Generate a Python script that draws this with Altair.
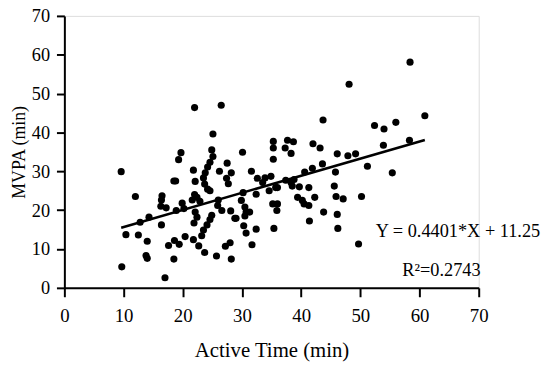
import altair as alt
import pandas as pd

# Active time (min) and MVPA (min)
active_time = [
    9.6, 9.7, 10.4, 12.0, 12.5, 12.8, 13.8, 14.0, 14.0, 14.3,
    16.5, 16.4, 16.3, 17.2, 16.4, 17.0, 17.6, 18.5, 18.6, 19.4,
    20.4, 18.8, 19.3, 19.7, 18.9, 19.9, 20.2, 21.8, 22.0, 22.1,
    22.1, 22.4, 21.9, 21.8, 22.7, 22.0, 21.6, 22.4, 22.9, 23.5,
    23.7, 24.2, 24.6, 23.8, 24.2, 24.6, 24.9, 25.1, 25.1, 26.5,
    26.2, 27.5, 28.2, 27.4, 27.7, 26.0, 25.9, 26.6, 28.1, 28.8,
    24.9, 24.6, 24.1, 23.5, 23.2, 23.7, 25.7, 27.2, 28.0, 28.2,
    30.1, 29.0, 30.2, 29.9, 30.5, 30.7, 31.3, 30.5, 30.3, 30.7,
    31.7, 32.4, 32.4, 31.6, 32.6, 33.9, 33.5, 34.9, 34.6, 36.0,
    35.2, 36.0, 35.9, 35.4, 35.3, 35.3, 35.3, 37.7, 38.7, 37.3,
    38.3, 37.4, 38.8, 38.5, 38.3, 39.7, 39.4, 40.2, 40.5, 41.3,
    42.3, 40.6, 41.9, 41.3, 41.4, 42.0, 43.2, 43.7, 43.6, 43.8,
    45.8, 45.6, 45.9, 47.1, 46.1, 46.2, 46.1, 47.9, 49.2, 48.1,
    49.7, 50.2, 51.2, 52.4, 54.0, 56.0, 53.9, 55.4, 58.4, 60.9,
    58.3, 35.7, 18.5,
]
mvpa = [
    29.9, 5.4, 13.7, 23.5, 13.6, 16.9, 8.3, 7.6, 12.0, 18.2,
    23.7, 22.6, 21.0, 20.6, 16.2, 2.6, 10.9, 7.4, 12.2, 11.2,
    13.2, 27.5, 33.0, 34.8, 19.9, 21.8, 20.4, 30.3, 46.4, 27.4,
    19.5, 18.2, 16.7, 12.4, 10.8, 24.0, 22.6, 23.3, 22.3, 28.3,
    26.7, 25.4, 25.0, 29.6, 31.1, 32.3, 35.5, 33.8, 39.6, 47.0,
    30.0, 32.1, 29.6, 28.2, 26.8, 22.6, 21.2, 19.9, 19.8, 17.9,
    18.7, 17.6, 16.2, 14.9, 13.4, 9.1, 8.2, 10.7, 11.6, 7.4,
    34.9, 17.9, 24.5, 22.5, 20.8, 19.5, 19.5, 18.5, 16.0, 14.1,
    11.1, 15.1, 24.1, 30.0, 28.2, 28.3, 27.1, 28.7, 25.0, 25.8,
    21.6, 21.6, 19.9, 15.3, 37.7, 36.0, 33.1, 38.0, 37.6, 36.0,
    34.6, 27.7, 27.9, 26.2, 27.1, 26.0, 23.3, 22.5, 21.6, 21.2,
    23.3, 29.8, 30.8, 25.8, 17.2, 37.1, 36.0, 43.2, 31.9, 19.5,
    29.8, 26.2, 23.5, 22.9, 18.9, 15.3, 34.5, 34.0, 34.5, 52.4,
    11.3, 23.5, 31.3, 41.8, 40.9, 42.6, 36.7, 29.6, 58.1, 44.3,
    38.0, 25.8, 27.5,
]

# Fitted regression reported on the chart
slope = 0.4401
intercept = 11.25
equation_text = ["Y = 0.4401*X + 11.25"]
r2_text = ["R\u00b2=0.2743"]
tick_values = [0, 10, 20, 30, 40, 50, 60, 70]

FONT = "Liberation Serif"

points = pd.DataFrame({"x": active_time, "y": mvpa})
x_fit = [min(active_time), max(active_time)]
fit = pd.DataFrame({"x": x_fit, "y": [slope * v + intercept for v in x_fit]})

x_scale = alt.Scale(domain=[0, 70], nice=False, zero=False)
y_scale = alt.Scale(domain=[0, 70], nice=False, zero=False)

x_axis = alt.Axis(
    title="Active Time (min)", values=tick_values, grid=False,
    domainColor="black", domainWidth=2, tickColor="black", tickWidth=2, tickSize=9,
    labelFont=FONT, labelFontSize=19, labelColor="black", labelPadding=10,
    labelOverlap=False, labelFlush=False,
    titleFont=FONT, titleFontSize=21, titleFontWeight="normal", titleColor="black",
    titlePadding=14,
)
y_axis = alt.Axis(
    title="MVPA (min)", values=tick_values, grid=False,
    domainColor="black", domainWidth=2, tickColor="black", tickWidth=2, tickSize=8,
    labelFont=FONT, labelFontSize=18.5, labelColor="black", labelPadding=7,
    labelOverlap=False, labelFlush=False,
    titleFont=FONT, titleFontSize=18, titleFontWeight="normal", titleColor="black",
    titlePadding=3,
)

scatter = alt.Chart(points).mark_circle(size=52, color="black", opacity=1).encode(
    x=alt.X("x:Q", scale=x_scale, axis=x_axis),
    y=alt.Y("y:Q", scale=y_scale, axis=y_axis),
)

line = alt.Chart(fit).mark_line(color="black", strokeWidth=2.5).encode(
    x=alt.X("x:Q", scale=x_scale, axis=x_axis),
    y=alt.Y("y:Q", scale=y_scale, axis=y_axis),
)

eq = alt.Chart(pd.DataFrame({"t": equation_text})).mark_text(
    font=FONT, fontSize=18.5, color="black", align="left", baseline="middle"
).encode(
    x=alt.X(datum=52.6, scale=x_scale, axis=x_axis),
    y=alt.Y(datum=14.6, scale=y_scale, axis=y_axis),
    text="t:N",
)

r2 = alt.Chart(pd.DataFrame({"t": r2_text})).mark_text(
    font=FONT, fontSize=18.5, color="black", align="left", baseline="middle"
).encode(
    x=alt.X(datum=57.1, scale=x_scale, axis=x_axis),
    y=alt.Y(datum=4.6, scale=y_scale, axis=y_axis),
    text="t:N",
)

chart = alt.layer(scatter, line, eq, r2).properties(
    width=419, height=275,
    padding={"left": 57, "top": 6, "right": 64, "bottom": 74},
    autosize=alt.AutoSizeParams(type="none"),
).configure_view(stroke=None).configure_axis(labelOverlap=False).configure(background="white")

chart.save("out.html", embed_options={"renderer": "svg", "actions": False})
